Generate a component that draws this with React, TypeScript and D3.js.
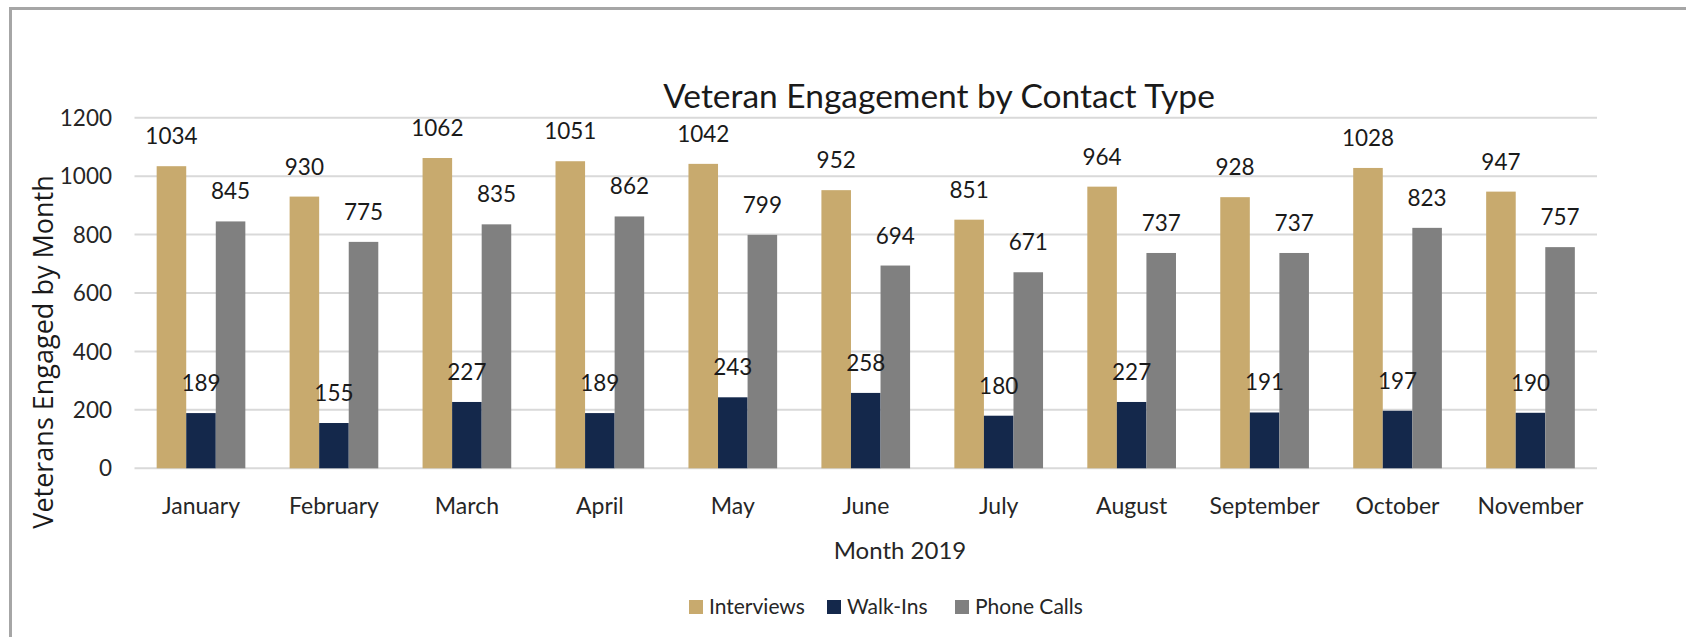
import React from "react";
import * as d3 from "d3";

const months = ["January","February","March","April","May","June","July","August","September","October","November"];
const interviews = [1034, 930, 1062, 1051, 1042, 952, 851, 964, 928, 1028, 947];
const walkIns = [189, 155, 227, 189, 243, 258, 180, 227, 191, 197, 190];
const phoneCalls = [845, 775, 835, 862, 799, 694, 671, 737, 737, 823, 757];
const seriesNames = ["Interviews", "Walk-Ins", "Phone Calls"];
const seriesColors = ["#C8AA6E", "#14284B", "#808080"];
const yTicks = [0, 200, 400, 600, 800, 1000, 1200];

const W = 1686, H = 637;
const FONT = "Lato, 'Open Sans', sans-serif";

export default function App() {
  const series = [interviews, walkIns, phoneCalls];
  const x = d3.scaleBand<string>().domain(months).range([134.5, 1597]).paddingInner(0.333).paddingOuter(0.1667);
  const xs = d3.scaleBand<number>().domain([0, 1, 2]).range([0, x.bandwidth()]).padding(0);
  const y = d3.scaleLinear().domain([0, 1200]).range([468.3, 117.7]);
  const bw = xs.bandwidth();

  return (
    <>
      <style>{`html,body{margin:0;padding:0;overflow:hidden;background:#fff}`}</style>
      <svg width={W} height={H} style={{ position: "fixed", left: 0, top: 0, display: "block", background: "#fff" }}>
        <rect x={0} y={0} width={W} height={H} fill="#fff" />
        <line x1={10} x2={W} y1={8.5} y2={8.5} stroke="#a6a6a6" strokeWidth={3} />
        <line x1={10.5} x2={10.5} y1={7} y2={H} stroke="#a6a6a6" strokeWidth={3} />
        {yTicks.map(t => (
          <g key={t}>
            <line x1={134.5} x2={1597} y1={y(t)} y2={y(t)} stroke="#d9d9d9" strokeWidth={2} />
            <text x={112} y={y(t)} dy="0.36em" textAnchor="end" fontFamily={FONT} fontSize={22.5} fill="#262626">{t}</text>
          </g>
        ))}
        {months.map((m, i) => (
          <g key={m}>
            {series.map((s, j) => {
              const bx = (x(m) as number) + (xs(j) as number);
              return <rect key={j} x={bx} y={y(s[i])} width={bw} height={y(0) - y(s[i])} fill={seriesColors[j]} />;
            })}
          </g>
        ))}
        {months.map((m, i) => (
          <g key={m + "-lbl"}>
            {series.map((s, j) => {
              const bx = (x(m) as number) + (xs(j) as number);
              return (
                <text key={j} x={bx + bw / 2} y={y(s[i]) - 22} textAnchor="middle" fontFamily={FONT} fontSize={22.5} fill="#1a1a1a">{s[i]}</text>
              );
            })}
            <text x={(x(m) as number) + x.bandwidth() / 2} y={514} textAnchor="middle" fontFamily={FONT} fontSize={23} fill="#262626">{m}</text>
          </g>
        ))}
        <text x={939} y={108} textAnchor="middle" fontFamily={FONT} fontSize={33.5} fill="#1a1a1a">Veteran Engagement by Contact Type</text>
        <text x={900} y={559} textAnchor="middle" fontFamily={FONT} fontSize={24} fill="#262626">Month 2019</text>
        <text transform={`translate(53,352) rotate(-90)`} textAnchor="middle" fontFamily="'Open Sans', sans-serif" fontSize={27} fill="#1a1a1a">Veterans Engaged by Month</text>
        {seriesNames.map((n, j) => {
          const lx = [689, 827, 955][j];
          return (
            <g key={n}>
              <rect x={lx} y={600} width={14} height={14} fill={seriesColors[j]} />
              <text x={lx + 20} y={614} fontFamily={FONT} fontSize={21} fill="#262626">{n}</text>
            </g>
          );
        })}
      </svg>
    </>
  );
}
